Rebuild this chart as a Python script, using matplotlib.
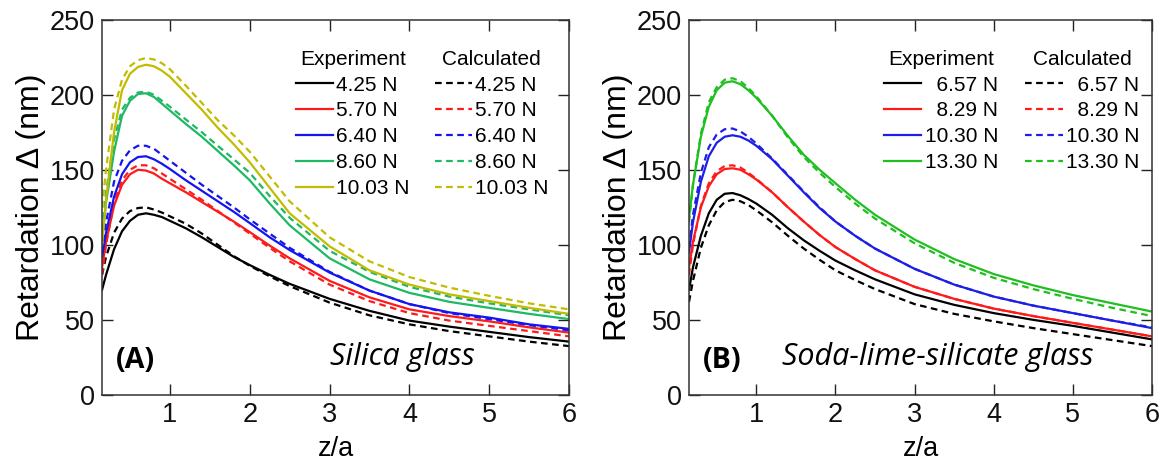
import numpy as np
import matplotlib
matplotlib.use("Agg")
import matplotlib.pyplot as plt

plt.rcParams['font.family'] = ['Liberation Sans', 'DejaVu Sans']

# z/a sample positions (shared by every curve)
z = [0.15, 0.2, 0.3, 0.4, 0.5, 0.6, 0.7, 0.8, 0.9, 1.0, 1.2, 1.4, 1.6, 1.8,
     2.0, 2.25, 2.5, 3.0, 3.5, 4.0, 4.5, 5.0, 5.5, 6.0]

# ---- (A) silica glass ----
loads_a = ['4.25 N', '5.70 N', '6.40 N', '8.60 N', '10.03 N']
colors_a = ['#000000', '#ff1a1a', '#1414f0', '#1fb864', '#c2bc00']

exp_a_425 = [70, 80, 97, 109, 116, 120, 121, 120, 118.5, 116, 111, 105, 98.5, 92,
             86.5, 80, 74, 64, 56, 49.5, 45.5, 42, 38.5, 35.5]
calc_a_425 = [80, 92, 108, 117.5, 122.5, 124.5, 125, 123.5, 121.5, 119, 114, 107.5, 100, 92.5,
              86, 79, 72.5, 61.5, 53, 47, 42.5, 39, 35.5, 32.5]
exp_a_570 = [85, 102, 126, 140, 147, 150, 149.5, 147.5, 144, 141, 135, 128.5, 122, 115.5,
             108.5, 99.5, 91, 76, 65, 57, 52.5, 49, 45, 41.5]
calc_a_570 = [80, 100, 128, 143, 150, 153, 153, 151, 147.5, 144, 137, 130, 122.5, 115,
              107.5, 98, 89, 73.5, 62.5, 54.5, 49.5, 46, 42.5, 39]
exp_a_640 = [92, 108, 132, 147, 155, 158.5, 159, 157, 154, 150.5, 143, 136, 129, 122,
             114.5, 105, 96.5, 81.5, 69.5, 60.5, 55, 51.5, 47, 44]
calc_a_640 = [95, 115, 142, 156, 163, 166, 166, 164, 160, 156, 148, 140, 132.5, 125,
              117, 107.5, 98, 82, 69.5, 60.5, 54.5, 50.5, 46.5, 43]
exp_a_860 = [103, 128, 162, 186, 196, 200.5, 201, 198.5, 194, 189.5, 180.5, 172, 162.5, 153,
             143, 127.5, 113, 91, 77, 68, 62, 58, 54, 50.5]
calc_a_860 = [110, 135, 170, 190, 198, 201.5, 202, 200, 196, 192, 183.5, 175, 166, 157,
              148, 132.5, 118, 96, 82, 72, 65.5, 61, 57, 53]
exp_a_1003 = [100, 130, 175, 203, 214, 218.5, 220, 219, 216, 212, 201, 190, 178, 167,
              155, 138, 121, 99, 83, 73.5, 67, 62.5, 58, 54]
calc_a_1003 = [125, 150, 190, 210, 219, 223, 224.5, 223.5, 221, 217, 206, 194.5, 183, 173,
               162, 145.5, 129, 105, 89, 78.5, 71.5, 66, 61, 57]

# ---- (B) soda-lime-silicate glass ----
loads_b = ['  6.57 N', '  8.29 N', '10.30 N', '13.30 N']
colors_b = ['#000000', '#ff1a1a', '#1e1ee6', '#1fbf1f']

exp_b_657 = [70, 85, 106, 121, 130, 134, 134.5, 133, 130.5, 127.5, 120, 111, 103, 96,
             89.5, 83, 77, 67, 60, 54.5, 50, 46, 41.5, 37]
calc_b_657 = [62, 76, 98, 113, 123, 128.5, 130, 129, 126.5, 123, 115, 106, 97.5, 90,
              83, 76.5, 70.5, 60.5, 54, 49, 44.5, 40.5, 36.5, 32.5]
exp_b_829 = [85, 102, 125, 139, 147, 150.5, 151, 150, 147, 143.5, 135, 125, 115.5, 106.5,
             98.5, 90.5, 83, 72, 64, 57.5, 52.5, 48, 43.5, 39]
calc_b_829 = [80, 100, 126, 141, 149, 152.5, 153, 151.5, 148, 144, 135, 125, 115.5, 106.5,
              98.5, 90.5, 83, 72, 64, 57.5, 52.5, 48, 43.5, 39]
exp_b_1030 = [95, 115, 142, 159, 168, 172, 173, 172, 169.5, 166, 157, 146, 135, 124.5,
              115.5, 106, 97.5, 84, 73.5, 65.5, 59.5, 54.5, 49.5, 44.5]
calc_b_1030 = [98, 120, 148, 165, 173.5, 177, 177.5, 175.5, 172, 167.5, 157.5, 146.5, 135.5, 125,
               115.5, 106, 97.5, 84, 73.5, 65.5, 59.5, 54.5, 49.5, 45]
exp_b_1330 = [118, 140, 172, 192, 203, 208, 209, 207, 203, 198, 186, 172.5, 160, 150,
              141, 130, 120, 103.5, 90.5, 80.5, 73, 66.5, 61, 55.5]
calc_b_1330 = [115, 140, 174, 195, 205, 210, 211, 209, 204.5, 199, 186, 171.5, 158.5, 148,
               138.5, 127.5, 117.5, 101, 88, 78, 70.5, 64, 58, 52.5]


def draw_panel(ax, loads, colors, exp, calc, tag, glass, tag_x, glass_x, leg_x):
    exp_lines = []
    calc_lines = []
    for lab, c, e, k in zip(loads, colors, exp, calc):
        l1, = ax.plot(z, e, '-', color=c, lw=1.6, label=lab)
        l2, = ax.plot(z, k, '--', color=c, lw=1.6, dashes=(3, 2), label=lab)
        exp_lines.append(l1)
        calc_lines.append(l2)

    ax.set_xlim(0.15, 6)
    ax.set_ylim(0, 250)
    ax.set_xticks([1, 2, 3, 4, 5, 6])
    ax.set_yticks([0, 50, 100, 150, 200, 250])
    ax.tick_params(direction='in', length=8, width=1, top=True, right=True,
                   labelsize=19.5, pad=5, colors='#222222', labelcolor='#111111')
    for s in ax.spines.values():
        s.set_color('#333333')
        s.set_linewidth(1.1)
    ax.set_xlabel('z/a', fontsize=19.5, labelpad=6)
    ax.set_ylabel('Retardation Δ (nm)', fontsize=23, labelpad=3)

    opts = dict(loc='upper left', frameon=False, fontsize=15, title_fontsize=15,
                handlelength=1.8, handletextpad=0.15, labelspacing=0.33,
                borderpad=0, borderaxespad=0)
    leg1 = ax.legend(handles=exp_lines, title='Experiment',
                     bbox_to_anchor=(leg_x[0], 0.92), **opts)
    ax.add_artist(leg1)
    ax.legend(handles=calc_lines, title='Calculated',
              bbox_to_anchor=(leg_x[1], 0.92), **opts)

    ax.text(tag_x, 23, tag, fontsize=20.5, fontweight='bold', family='Open Sans',
            ha='left', va='center')
    ax.text(glass_x, 25, glass, fontsize=22, style='italic', family='Open Sans',
            ha='left', va='center')


fig = plt.figure(figsize=(11.69, 4.69), dpi=100)
ax_a = fig.add_axes([0.0873, 0.158, 0.3995, 0.80])
ax_b = fig.add_axes([0.5894, 0.158, 0.3961, 0.80])

draw_panel(ax_a, loads_a, colors_a,
           [exp_a_425, exp_a_570, exp_a_640, exp_a_860, exp_a_1003],
           [calc_a_425, calc_a_570, calc_a_640, calc_a_860, calc_a_1003],
           '(A)', 'Silica glass', 0.32, 3.0, (0.415, 0.712))
draw_panel(ax_b, loads_b, colors_b,
           [exp_b_657, exp_b_829, exp_b_1030, exp_b_1330],
           [calc_b_657, calc_b_829, calc_b_1030, calc_b_1330],
           '(B)', 'Soda-lime-silicate glass', 0.33, 1.32, (0.421, 0.726))

fig.savefig('out.png', dpi=100)
